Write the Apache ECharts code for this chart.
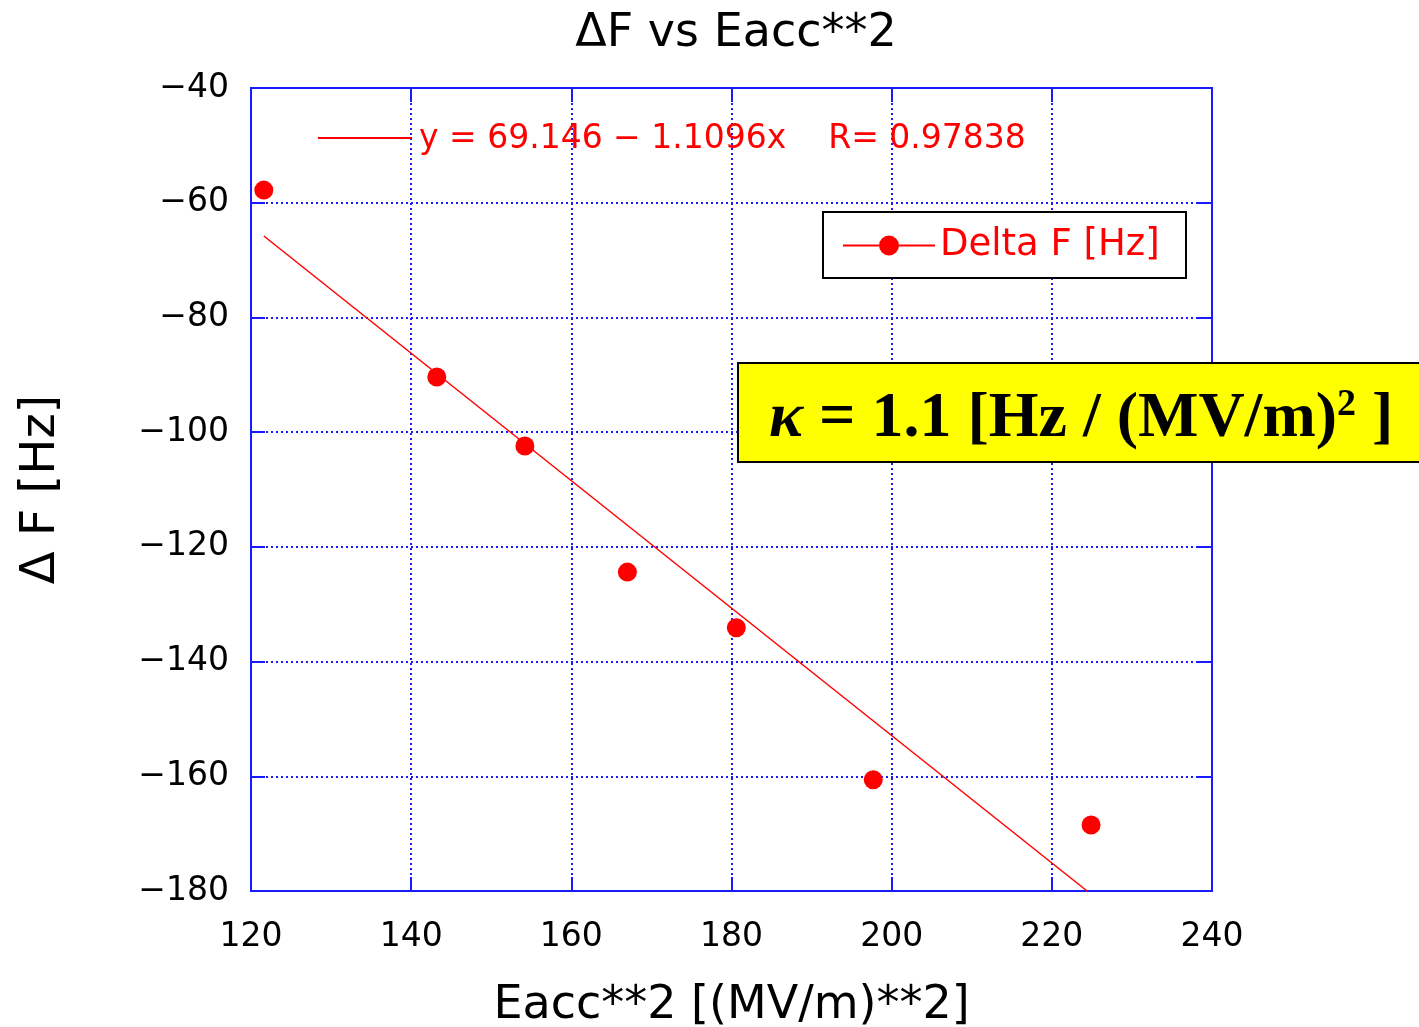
<!DOCTYPE html>
<html><head><meta charset="utf-8">
<script src="https://cdn.jsdelivr.net/npm/echarts@6/dist/echarts.min.js"></script>
<style>html,body{margin:0;padding:0;background:#fff}#c{width:1419px;height:1027px}</style>
</head><body><div id="c"></div>
<script>
var eacc2 = [121.6, 143.2, 154.2, 167.0, 180.6, 197.7, 224.9];
var deltaF = [-57.8, -90.4, -102.4, -124.4, -134.1, -160.6, -168.5];
var fitX = [121.6, 224.4];
var fitY = [-65.8, -180.0];
var xTicks = [120, 140, 160, 180, 200, 220, 240];
var yTicks = [-40, -60, -80, -100, -120, -140, -160, -180];
var fitLabel = 'y = 69.146 \u2212 1.1096x    R= 0.97838';
var seriesName = 'Delta F [Hz]';

var chart = echarts.init(document.getElementById('c'));
var blue = '#1a1aff';
var font = '"DejaVu Sans", "Liberation Sans", sans-serif';
function minus(v){ return String(v).replace('-', '\u2212'); }
var axisCommon = {
  axisLine: {show: true, lineStyle: {color: blue, width: 2}},
  axisTick: {show: true, inside: true, length: 14, lineStyle: {color: blue, width: 2}},
  splitLine: {show: false}
};
var pts = eacc2.map(function(x, i){ return [x, deltaF[i]]; });
var fit = fitX.map(function(x, i){ return [x, fitY[i]]; });
var legendIcon = 'path://M0,9 H36 V11 H0 Z M56,9 H92 V11 H56 Z M36,10 A10,10 0 1,0 56,10 A10,10 0 1,0 36,10 Z';

chart.setOption({
  animation: false,
  backgroundColor: '#fff',
  title: {
    text: '\u0394F vs Eacc**2', left: 731, top: 6, textAlign: 'center',
    textStyle: {fontFamily: font, fontSize: 46, fontWeight: 'normal', color: '#000'}
  },
  grid: {left: 251, top: 88, right: 207, bottom: 136, show: true, borderColor: blue, borderWidth: 2,
         containLabel: false, outerBoundsMode: 'none'},
  legend: {
    left: 843, top: 227, padding: 0, itemGap: 10, z: 20,
    itemWidth: 92, itemHeight: 20, icon: legendIcon,
    data: [seriesName],
    textStyle: {fontFamily: font, fontSize: 37, color: '#ff0000'}
  },
  xAxis: [
    Object.assign({}, axisCommon, {
      type: 'value', min: 120, max: 240, interval: 20,
      name: 'Eacc**2 [(MV/m)**2]', nameLocation: 'middle', nameGap: 92,
      nameTextStyle: {fontFamily: font, fontSize: 46, color: '#000'},
      axisLabel: {fontFamily: font, fontSize: 33, color: '#000', margin: 30},
      splitLine: {show: true, lineStyle: {color: blue, type: [2, 3], width: 2}}
    }),
    Object.assign({}, axisCommon, {type: 'value', position: 'top', min: 120, max: 240, interval: 20, axisLabel: {show: false}})
  ],
  yAxis: [
    Object.assign({}, axisCommon, {
      type: 'value', min: -180, max: -40, interval: 20,
      name: '\u0394 F [Hz]', nameLocation: 'middle', nameGap: 185,
      nameTextStyle: {fontFamily: font, fontSize: 48, color: '#000'},
      axisLabel: {fontFamily: font, fontSize: 33, color: '#000', margin: 22, formatter: minus},
      splitLine: {show: true, lineStyle: {color: blue, type: [2, 3], width: 2}}
    }),
    Object.assign({}, axisCommon, {type: 'value', position: 'right', min: -180, max: -40, interval: 20, axisLabel: {show: false}})
  ],
  series: [
    {
      name: 'fit', type: 'line', data: fit, symbol: 'none', silent: true,
      lineStyle: {color: '#ff0000', width: 1.5}, z: 3
    },
    {
      name: seriesName, type: 'scatter', data: pts, symbol: 'circle', symbolSize: 19,
      itemStyle: {color: '#ff0000', opacity: 1}, z: 4
    }
  ],
  graphic: [
    {type: 'rect', left: 822, top: 211, shape: {width: 363, height: 66}, style: {fill: '#fff', stroke: '#000', lineWidth: 2}, z: 5},
    {type: 'line', shape: {x1: 318, y1: 138, x2: 412, y2: 138}, style: {stroke: '#ff0000', lineWidth: 2}, z: 50},
    {type: 'text', left: 419, top: 123, style: {text: fitLabel, fill: '#ff0000', font: '33px ' + font}, z: 50},
    {type: 'rect', left: 737, top: 362, shape: {width: 690, height: 99}, style: {fill: '#ffff00', stroke: '#000', lineWidth: 2}, z: 60},
    {type: 'text', left: 769, top: 386, z: 61, style: {
      text: '{k|\u03BA} = 1.1 [Hz / (MV/m){s|2} ]',
      font: 'bold 64px "Liberation Serif", "DejaVu Serif", serif', fill: '#000',
      rich: {
        k: {fontStyle: 'italic', fontWeight: 'bold', fontSize: 64, fontFamily: '"Liberation Serif", serif'},
        s: {fontSize: 38, fontWeight: 'bold', fontFamily: '"Liberation Serif", serif', verticalAlign: 'top', padding: [0, 0, 28, 0]}
      }
    }}
  ]
});
</script></body></html>
